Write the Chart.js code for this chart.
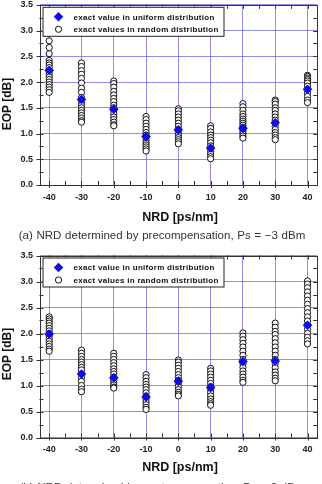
<!DOCTYPE html>
<html>
<head>
<meta charset="utf-8">
<script src="https://cdn.jsdelivr.net/npm/chart.js@4.4.0/dist/chart.umd.min.js"></script>
<style>
  html, body { margin:0; padding:0; background:#fff; }
  body { width:322px; height:484px; position:relative; overflow:hidden; font-family:"Liberation Sans", Arial, sans-serif; }
  canvas { position:absolute; left:0; }
  .ytitle { position:absolute; font-weight:bold; font-size:12px; color:#111; white-space:nowrap; transform:translate(-50%,-50%) rotate(-90deg); }
  .xtitle { position:absolute; font-weight:bold; font-size:12.5px; color:#111; white-space:nowrap; transform:translate(-50%,-50%); }
  .caption { position:absolute; font-size:11.5px; color:#333; white-space:nowrap; word-spacing:0.5px; transform:translate(-50%,-50%); }
</style>
</head>
<body>
<canvas id="chartA" width="322" height="226" style="top:0px;width:322px;height:226px"></canvas>
<canvas id="chartB" width="322" height="232" style="top:240px;width:322px;height:232px"></canvas>
<div class="ytitle" id="ytA" style="left:7px;top:104px"></div>
<div class="ytitle" id="ytB" style="left:7px;top:354px"></div>
<div class="xtitle" id="xtA" style="left:180px;top:217px"></div>
<div class="xtitle" id="xtB" style="left:180px;top:467px"></div>
<div class="caption" id="capA" style="left:162px;top:235px"></div>
<div class="caption" id="capB" style="left:162px;top:487px"></div>
<script>
// ---------- data ----------
const NRD = [-40, -30, -20, -10, 0, 10, 20, 30, 40];
const yTickValues = [0, 0.5, 1.0, 1.5, 2.0, 2.5, 3.0, 3.5];
const legendLabels = ['exact value in uniform distribution', 'exact values in random distribution'];
const xTitle = 'NRD [ps/nm]';
const yTitle = 'EOP [dB]';
const captionA = '(a) NRD determined by precompensation, Ps = \u22123 dBm';
const captionB = '(b) NRD determined by postcompensation, Ps = 0 dBm';

// (a) precompensation
const uniformA = [2.23, 1.66, 1.47, 0.94, 1.07, 0.72, 1.10, 1.21, 1.86];
const randomA = [
  [2.80, 2.67, 2.55, 2.42, 2.37, 2.33, 2.28, 2.20, 2.15, 2.10, 2.05, 2.00, 1.95, 1.90, 1.85, 1.80],
  [2.37, 2.30, 2.22, 2.15, 2.07, 1.98, 1.88, 1.80, 1.70, 1.60, 1.55, 1.50, 1.45, 1.40, 1.35, 1.30, 1.25, 1.22],
  [2.02, 1.97, 1.90, 1.82, 1.75, 1.68, 1.62, 1.55, 1.50, 1.45, 1.38, 1.32, 1.27, 1.22, 1.17, 1.15],
  [1.33, 1.27, 1.20, 1.14, 1.08, 1.02, 0.97, 0.92, 0.87, 0.82, 0.78, 0.74, 0.70, 0.66],
  [1.48, 1.44, 1.38, 1.32, 1.26, 1.20, 1.14, 1.08, 1.02, 0.97, 0.92, 0.88, 0.84, 0.80],
  [1.15, 1.10, 1.03, 0.97, 0.92, 0.87, 0.82, 0.76, 0.70, 0.65, 0.60, 0.55, 0.51],
  [1.58, 1.52, 1.45, 1.38, 1.33, 1.28, 1.24, 1.20, 1.16, 1.12, 1.07, 1.03, 0.99, 0.95, 0.91],
  [1.65, 1.62, 1.57, 1.50, 1.45, 1.38, 1.32, 1.26, 1.20, 1.14, 1.08, 1.02, 0.97, 0.92, 0.88],
  [2.13, 2.11, 2.08, 2.05, 2.02, 1.98, 1.92, 1.85, 1.78, 1.72, 1.65, 1.60]
];

// (b) postcompensation
const uniformB = [1.99, 1.22, 1.15, 0.78, 1.08, 0.96, 1.46, 1.47, 2.16];
const randomB = [
  [2.32, 2.28, 2.24, 2.20, 2.15, 2.10, 2.05, 2.00, 1.95, 1.90, 1.85, 1.80, 1.75, 1.70, 1.66],
  [1.68, 1.62, 1.56, 1.50, 1.45, 1.40, 1.35, 1.30, 1.22, 1.15, 1.08, 1.00, 0.93, 0.88],
  [1.62, 1.56, 1.50, 1.44, 1.38, 1.32, 1.27, 1.22, 1.16, 1.10, 1.05, 1.01, 0.97, 0.95],
  [1.21, 1.15, 1.08, 1.02, 0.97, 0.92, 0.86, 0.80, 0.74, 0.68, 0.63, 0.58, 0.54],
  [1.49, 1.45, 1.39, 1.33, 1.27, 1.21, 1.15, 1.10, 1.04, 0.98, 0.92, 0.87, 0.83, 0.80],
  [1.33, 1.28, 1.22, 1.16, 1.10, 1.04, 0.98, 0.92, 0.86, 0.80, 0.74, 0.69, 0.65, 0.62],
  [2.01, 1.95, 1.88, 1.81, 1.74, 1.66, 1.58, 1.50, 1.42, 1.35, 1.28, 1.22, 1.16, 1.10, 1.06],
  [2.20, 2.12, 2.04, 1.98, 1.90, 1.82, 1.74, 1.66, 1.58, 1.50, 1.42, 1.34, 1.26, 1.20, 1.14, 1.09],
  [3.01, 2.95, 2.88, 2.80, 2.72, 2.64, 2.56, 2.48, 2.40, 2.32, 2.24, 2.16, 2.08, 2.00, 1.93, 1.86, 1.80]
];

// ---------- text ----------
document.getElementById('ytA').textContent = yTitle;
document.getElementById('ytB').textContent = yTitle;
document.getElementById('xtA').textContent = xTitle;
document.getElementById('xtB').textContent = xTitle;
document.getElementById('capA').textContent = captionA;
document.getElementById('capB').textContent = captionB;

// ---------- styles ----------
const BLUE = 'rgb(10,10,235)';
const GRID = 'rgba(95,95,230,0.7)';
const FRAME = '#333';
const TICKFONT = { family: '"Liberation Sans", Arial, sans-serif', size: 9, weight: 'bold' };

const frameTicks = {
  id: 'frameTicks',
  afterDraw(chart) {
    const { ctx, chartArea: a, scales: { x, y } } = chart;
    ctx.save();
    ctx.strokeStyle = FRAME;
    ctx.lineWidth = 1;
    ctx.strokeRect(Math.round(a.left) + 0.5, Math.round(a.top) + 0.5, Math.round(a.right - a.left) - 1, Math.round(a.bottom - a.top));
    const xt = x.ticks.map(t => t.value);
    const xAll = [];
    xt.forEach((v, i) => { xAll.push([v, true]); if (i < xt.length - 1) xAll.push([(v + xt[i + 1]) / 2, false]); });
    const yt = y.ticks.map(t => t.value);
    const yAll = [];
    yt.forEach((v, i) => { yAll.push([v, true]); if (i < yt.length - 1) yAll.push([(v + yt[i + 1]) / 2, false]); });
    ctx.beginPath();
    xAll.forEach(([v, major]) => {
      const px = Math.round(x.getPixelForValue(v)) + 0.5;
      ctx.moveTo(px, a.bottom + (major ? 3 : 0)); ctx.lineTo(px, a.bottom - 4);
      ctx.moveTo(px, a.top); ctx.lineTo(px, a.top + 4);
    });
    yAll.forEach(([v, major]) => {
      const py = Math.round(y.getPixelForValue(v)) + 0.5;
      ctx.moveTo(a.left - (major ? 3 : 0), py); ctx.lineTo(a.left + 4, py);
      ctx.moveTo(a.right, py); ctx.lineTo(a.right - 4, py);
    });
    ctx.stroke();

    // legend box
    const bx = a.left + 3, by = a.top + 2, bw = 181, bh = 29;
    ctx.fillStyle = '#fff';
    ctx.fillRect(bx, by, bw, bh);
    ctx.strokeStyle = '#222';
    ctx.strokeRect(bx + 0.5, by + 0.5, bw, bh);
    const ds = chart.data.datasets;
    const rows = [by + 10, by + 22.5];
    ctx.font = 'bold 8px "Liberation Sans", Arial, sans-serif';
    try { ctx.letterSpacing = '0.3px'; } catch (e) {}
    ctx.textBaseline = 'middle';
    ctx.textAlign = 'left';
    ds.forEach((d, i) => {
      const mx = bx + 16, my = rows[i];
      ctx.fillStyle = d.pointBackgroundColor;
      ctx.strokeStyle = d.pointBorderColor;
      ctx.lineWidth = d.pointBorderWidth;
      ctx.beginPath();
      if (d.pointStyle === 'rectRot') {
        ctx.moveTo(mx - d.pointRadius, my); ctx.lineTo(mx, my - d.pointRadius);
        ctx.lineTo(mx + d.pointRadius, my); ctx.lineTo(mx, my + d.pointRadius); ctx.closePath();
        ctx.fill();
      } else {
        ctx.arc(mx, my, d.pointRadius, 0, Math.PI * 2);
        ctx.fill(); ctx.stroke();
      }
      ctx.fillStyle = '#111';
      ctx.fillText(d.label, bx + 31, my + 0.5);
    });
    ctx.restore();
  }
};

function buildChart(id, uniform, random, padTop, xAxisHeight) {
  const uniformPts = NRD.map((n, i) => ({ x: n, y: uniform[i] }));
  const randomPts = random.flatMap((vals, i) => vals.map(v => ({ x: NRD[i], y: v })));
  return new Chart(document.getElementById(id), {
    type: 'scatter',
    data: {
      datasets: [
        {
          label: legendLabels[0], data: uniformPts,
          pointStyle: 'rectRot', pointRadius: 4.8, pointHoverRadius: 4.8,
          pointBackgroundColor: BLUE, pointBorderColor: BLUE, pointBorderWidth: 0,
          backgroundColor: BLUE, borderColor: BLUE
        },
        {
          label: legendLabels[1], data: randomPts,
          pointStyle: 'circle', pointRadius: 3.1, pointHoverRadius: 3.1,
          pointBackgroundColor: '#fff', pointBorderColor: '#111', pointBorderWidth: 1,
          backgroundColor: '#fff', borderColor: '#111'
        }
      ]
    },
    options: {
      responsive: false, animation: false,
      layout: { padding: { top: padTop, right: 1, left: 0, bottom: 0 } },
      plugins: { legend: { display: false }, tooltip: { enabled: false } },
      scales: {
        x: {
          type: 'linear', min: -43, max: 43,
          afterBuildTicks: s => { s.ticks = NRD.map(v => ({ value: v })); },
          afterFit: s => { s.height = xAxisHeight; s.paddingLeft = 0; s.paddingRight = 0; },
          grid: { color: GRID, lineWidth: 1, drawTicks: false },
          border: { display: false },
          ticks: { font: TICKFONT, color: '#222', padding: 7, maxRotation: 0, autoSkip: false,
                   callback: v => String(v) }
        },
        y: {
          type: 'linear', min: 0, max: 3.5,
          afterBuildTicks: s => { s.ticks = yTickValues.map(v => ({ value: v })); },
          afterFit: s => { s.width = 39.5; s.paddingTop = 0; s.paddingBottom = 0; },
          grid: { color: GRID, lineWidth: 1, drawTicks: false },
          border: { display: false },
          ticks: { font: TICKFONT, color: '#222', padding: 6.5,
                   callback: v => Number(v).toFixed(1) }
        }
      }
    },
    plugins: [frameTicks]
  });
}

buildChart('chartA', uniformA, randomA, 3, 41);
buildChart('chartB', uniformB, randomB, 15.5, 34.5);
</script>
</body>
</html>
